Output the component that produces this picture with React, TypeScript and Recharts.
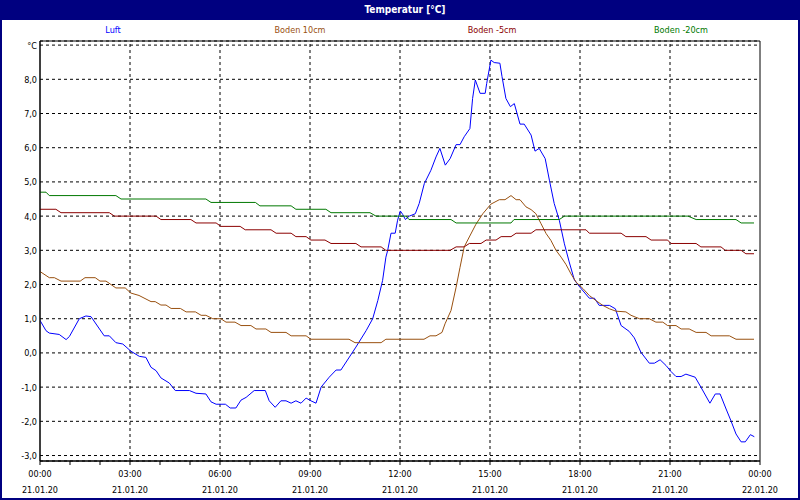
import { LineChart, Line, XAxis, YAxis, CartesianGrid, ReferenceLine, ReferenceArea } from "recharts"

// hour of day (0..24) and temperature in °C
const luft: [number, number][] = [
  [0, 0.95], [0.2, 0.65], [0.31, 0.58], [0.64, 0.54], [0.87, 0.39], [0.98, 0.48], [1.31, 1.0], [1.53, 1.08],
  [1.7, 1.06], [2.14, 0.5], [2.31, 0.5], [2.53, 0.3], [2.76, 0.26], [3.03, 0.05], [3.31, -0.1], [3.53, -0.13],
  [3.7, -0.42], [3.87, -0.52], [4.03, -0.73], [4.31, -0.88], [4.51, -1.1], [4.98, -1.1], [5.2, -1.18], [5.53, -1.2],
  [5.7, -1.43], [5.87, -1.5], [6.18, -1.5], [6.34, -1.61], [6.53, -1.61], [6.7, -1.38], [6.87, -1.3], [7.14, -1.1],
  [7.51, -1.1], [7.64, -1.4], [7.84, -1.59], [8.03, -1.4], [8.2, -1.4], [8.37, -1.47], [8.53, -1.4], [8.7, -1.47],
  [8.87, -1.32], [9.03, -1.4], [9.2, -1.47], [9.37, -1.0], [9.64, -0.71], [9.87, -0.5], [10.03, -0.5], [10.53, 0.17],
  [10.87, 0.65], [11.09, 1.0], [11.26, 1.53], [11.42, 2.12], [11.53, 2.8], [11.59, 3.0], [11.7, 3.5], [11.84, 3.5],
  [11.92, 3.88], [12.01, 4.15], [12.09, 4.05], [12.18, 3.9], [12.31, 4.0], [12.51, 4.07], [12.64, 4.37], [12.81, 4.95],
  [13.03, 5.34], [13.2, 5.73], [13.33, 5.98], [13.51, 5.49], [13.67, 5.68], [13.87, 6.09], [14.0, 6.09], [14.14, 6.32],
  [14.33, 6.56], [14.42, 7.44], [14.51, 7.98], [14.67, 7.59], [14.84, 7.59], [14.89, 7.88], [15.03, 8.56], [15.14, 8.49],
  [15.33, 8.47], [15.4, 8.08], [15.53, 7.44], [15.68, 7.2], [15.81, 7.29], [16.0, 6.69], [16.14, 6.69], [16.37, 6.37],
  [16.5, 5.9], [16.64, 5.98], [16.84, 5.68], [16.98, 5.05], [17.14, 4.37], [17.31, 3.88], [17.48, 3.19], [17.64, 2.66],
  [17.81, 2.14], [17.98, 1.94], [18.31, 1.6], [18.48, 1.6], [18.64, 1.39], [18.98, 1.39], [19.18, 1.29], [19.37, 0.8],
  [19.64, 0.63], [19.81, 0.44], [20.03, 0.02], [20.31, -0.3], [20.48, -0.3], [20.67, -0.2], [20.87, -0.37], [21.03, -0.54],
  [21.2, -0.69], [21.37, -0.69], [21.53, -0.62], [21.84, -0.71], [22.03, -1.0], [22.33, -1.47], [22.51, -1.2], [22.67, -1.2],
  [22.87, -1.64], [23.03, -1.98], [23.2, -2.37], [23.37, -2.6], [23.51, -2.6], [23.68, -2.39], [23.81, -2.45],
]

const boden10: [number, number][] = [
  [0, 2.38], [0.31, 2.2], [0.48, 2.2], [0.7, 2.1], [1.34, 2.1], [1.5, 2.2], [1.84, 2.2], [2.0, 2.1], [2.2, 2.1],
  [2.53, 1.9], [2.84, 1.9], [3.03, 1.75], [3.3, 1.68], [3.7, 1.5], [3.84, 1.5], [4.03, 1.4], [4.2, 1.4], [4.37, 1.3],
  [4.68, 1.3], [4.87, 1.2], [5.18, 1.2], [5.37, 1.1], [5.53, 1.1], [5.76, 1.0], [6.03, 1.0], [6.2, 0.9], [6.5, 0.9],
  [6.7, 0.8], [7.03, 0.8], [7.2, 0.7], [7.53, 0.7], [7.7, 0.6], [8.2, 0.6], [8.37, 0.5], [8.87, 0.5], [9.03, 0.4],
  [10.3, 0.4], [10.5, 0.3], [11.37, 0.3], [11.53, 0.4], [12.8, 0.4], [13.0, 0.5], [13.2, 0.5], [13.4, 0.6],
  [13.5, 0.85], [13.7, 1.24], [13.87, 1.92], [14.0, 2.5], [14.14, 3.1], [14.31, 3.39], [14.53, 3.76], [14.76, 4.07],
  [15.03, 4.35], [15.31, 4.48], [15.5, 4.48], [15.7, 4.6], [15.87, 4.48], [16.0, 4.48], [16.2, 4.27], [16.37, 4.19],
  [16.53, 4.07], [16.7, 3.78], [16.87, 3.49], [17.03, 3.29], [17.2, 3.0], [17.37, 2.8], [17.53, 2.59], [17.7, 2.31],
  [17.87, 2.07], [18.1, 1.88], [18.31, 1.68], [18.53, 1.53], [18.76, 1.39], [18.98, 1.29], [19.2, 1.22], [19.53, 1.2],
  [19.7, 1.1], [19.98, 1.0], [20.31, 1.0], [20.53, 0.9], [20.76, 0.9], [20.92, 0.8], [21.2, 0.8], [21.37, 0.7],
  [21.64, 0.7], [21.87, 0.6], [22.2, 0.6], [22.37, 0.5], [22.98, 0.5], [23.2, 0.4], [23.8, 0.4],
]

const boden5: [number, number][] = [
  [0, 4.2], [0.53, 4.2], [0.7, 4.1], [2.31, 4.1], [2.48, 4.0], [3.87, 4.0], [4.03, 3.9], [5.03, 3.9], [5.2, 3.8],
  [5.87, 3.8], [6.03, 3.7], [6.67, 3.7], [6.84, 3.6], [7.7, 3.6], [7.87, 3.5], [8.37, 3.5], [8.53, 3.4], [8.87, 3.4],
  [9.03, 3.3], [9.5, 3.3], [9.7, 3.2], [10.53, 3.2], [10.7, 3.1], [11.37, 3.1], [11.53, 3.0], [13.67, 3.0], [13.87, 3.1],
  [14.14, 3.1], [14.31, 3.2], [14.7, 3.2], [14.87, 3.3], [15.2, 3.3], [15.37, 3.4], [15.7, 3.4], [15.87, 3.5],
  [16.37, 3.5], [16.53, 3.6], [18.2, 3.6], [18.31, 3.5], [19.37, 3.5], [19.53, 3.4], [20.2, 3.4], [20.37, 3.3],
  [20.92, 3.3], [21.03, 3.2], [21.87, 3.2], [22.03, 3.1], [22.7, 3.1], [22.84, 3.0], [23.37, 3.0], [23.53, 2.9], [23.8, 2.9],
]

const boden20: [number, number][] = [
  [0, 4.7], [0.2, 4.7], [0.31, 4.6], [2.53, 4.6], [2.7, 4.5], [5.53, 4.5], [5.7, 4.4], [7.18, 4.4], [7.33, 4.3],
  [8.37, 4.3], [8.53, 4.2], [9.53, 4.2], [9.7, 4.1], [11.0, 4.1], [11.2, 4.0], [12.2, 4.0], [12.3, 3.9], [13.7, 3.9],
  [13.87, 3.8], [15.7, 3.8], [15.8, 3.9], [17.31, 3.9], [17.48, 4.0], [21.6, 4.0], [21.87, 3.9], [23.2, 3.9],
  [23.37, 3.8], [23.8, 3.8],
]

const hourTicks = Array.from({ length: 25 }, (_, i) => i)
const gridHours = [3, 6, 9, 12, 15, 18, 21]
const tempTicks = [-3, -2, -1, 0, 1, 2, 3, 4, 5, 6, 7, 8, 9]
const timeLabels = ["00:00", "03:00", "06:00", "09:00", "12:00", "15:00", "18:00", "21:00", "00:00"]
const dateLabels = ["21.01.20", "21.01.20", "21.01.20", "21.01.20", "21.01.20", "21.01.20", "21.01.20", "21.01.20", "22.01.20"]

const series = [
  { name: "Luft", color: "#0000ff", points: luft },
  { name: "Boden 10cm", color: "#99500f", points: boden10 },
  { name: "Boden -5cm", color: "#8b0000", points: boden5 },
  { name: "Boden -20cm", color: "#007800", points: boden20 },
]
const legendX = [113, 300, 492, 681]

const FONT = "Tahoma, 'DejaVu Sans Condensed', 'DejaVu Sans', sans-serif"
const NAVY = "#000080"

function TimeTick({ x, y, payload }: any) {
  const h = payload.value
  if (h % 3 !== 0) return null
  const i = h / 3
  return (
    <g>
      <text x={x} y={y + 10} textAnchor="middle" fontSize={9} fontFamily={FONT} fill="#000">
        {timeLabels[i]}
      </text>
      <text x={x} y={y + 25.5} textAnchor="middle" fontSize={9} fontFamily={FONT} fill="#000">
        {dateLabels[i]}
      </text>
    </g>
  )
}

function TempTick({ y, payload }: any) {
  const v = payload.value
  const label = v === 9 ? "°C" : v.toFixed(1).replace(".", ",")
  return (
    <text x={37} y={y + 3.5} textAnchor="end" fontSize={9} fontFamily={FONT} fill="#000">
      {label}
    </text>
  )
}

export default function App() {
  return (
    <div style={{ position: "absolute", left: 0, top: 0, width: 800, height: 500, background: "#fff", overflow: "hidden" }}>
      <LineChart width={800} height={500} margin={{ top: 41, right: 40, left: 0, bottom: 0 }}>
        <CartesianGrid vertical={false} stroke="#000" strokeDasharray="3 3" />
        {gridHours.map((h) => (
          <ReferenceLine key={h} x={h} stroke="#000" strokeDasharray="3 3" />
        ))}
        <ReferenceArea x1={0} x2={24} y1={-3.16} y2={9.12} fill="none" stroke="#000" strokeOpacity={1} />
        <XAxis
          type="number"
          dataKey="t"
          domain={[0, 24]}
          ticks={hourTicks}
          interval={0}
          height={39}
          tickSize={4}
          tickMargin={2}
          axisLine={{ stroke: "#000" }}
          tickLine={{ stroke: "#000" }}
          tick={<TimeTick />}
          allowDataOverflow
        />
        <YAxis
          type="number"
          domain={[-3.16, 9.12]}
          ticks={tempTicks}
          interval={0}
          width={40}
          tickLine={false}
          axisLine={{ stroke: "#000" }}
          tick={<TempTick />}
          allowDataOverflow
        />
        {series.map((s) => (
          <Line
            key={s.name}
            data={s.points.map(([t, v]) => ({ t, v }))}
            dataKey="v"
            type="linear"
            stroke={s.color}
            strokeWidth={1}
            dot={false}
            activeDot={false}
            isAnimationActive={false}
          />
        ))}
      </LineChart>
      {series.map((s, i) => (
        <div
          key={s.name}
          style={{
            position: "absolute",
            left: legendX[i] - 60,
            width: 120,
            top: 25,
            textAlign: "center",
            fontFamily: FONT,
            fontSize: 9,
            color: s.color,
          }}
        >
          {s.name}
        </div>
      ))}
      <div
        style={{
          position: "absolute",
          left: 0,
          top: 0,
          width: 800,
          height: 20,
          background: NAVY,
          color: "#fff",
          fontFamily: FONT,
          fontWeight: "bold",
          fontSize: 10,
          lineHeight: "20px",
          textAlign: "center",
          paddingLeft: 10,
          boxSizing: "border-box",
        }}
      >
        Temperatur [°C]
      </div>
      <div
        style={{
          position: "absolute",
          left: 0,
          top: 0,
          width: 800,
          height: 500,
          border: `2px solid ${NAVY}`,
          boxSizing: "border-box",
          pointerEvents: "none",
        }}
      />
    </div>
  )
}
